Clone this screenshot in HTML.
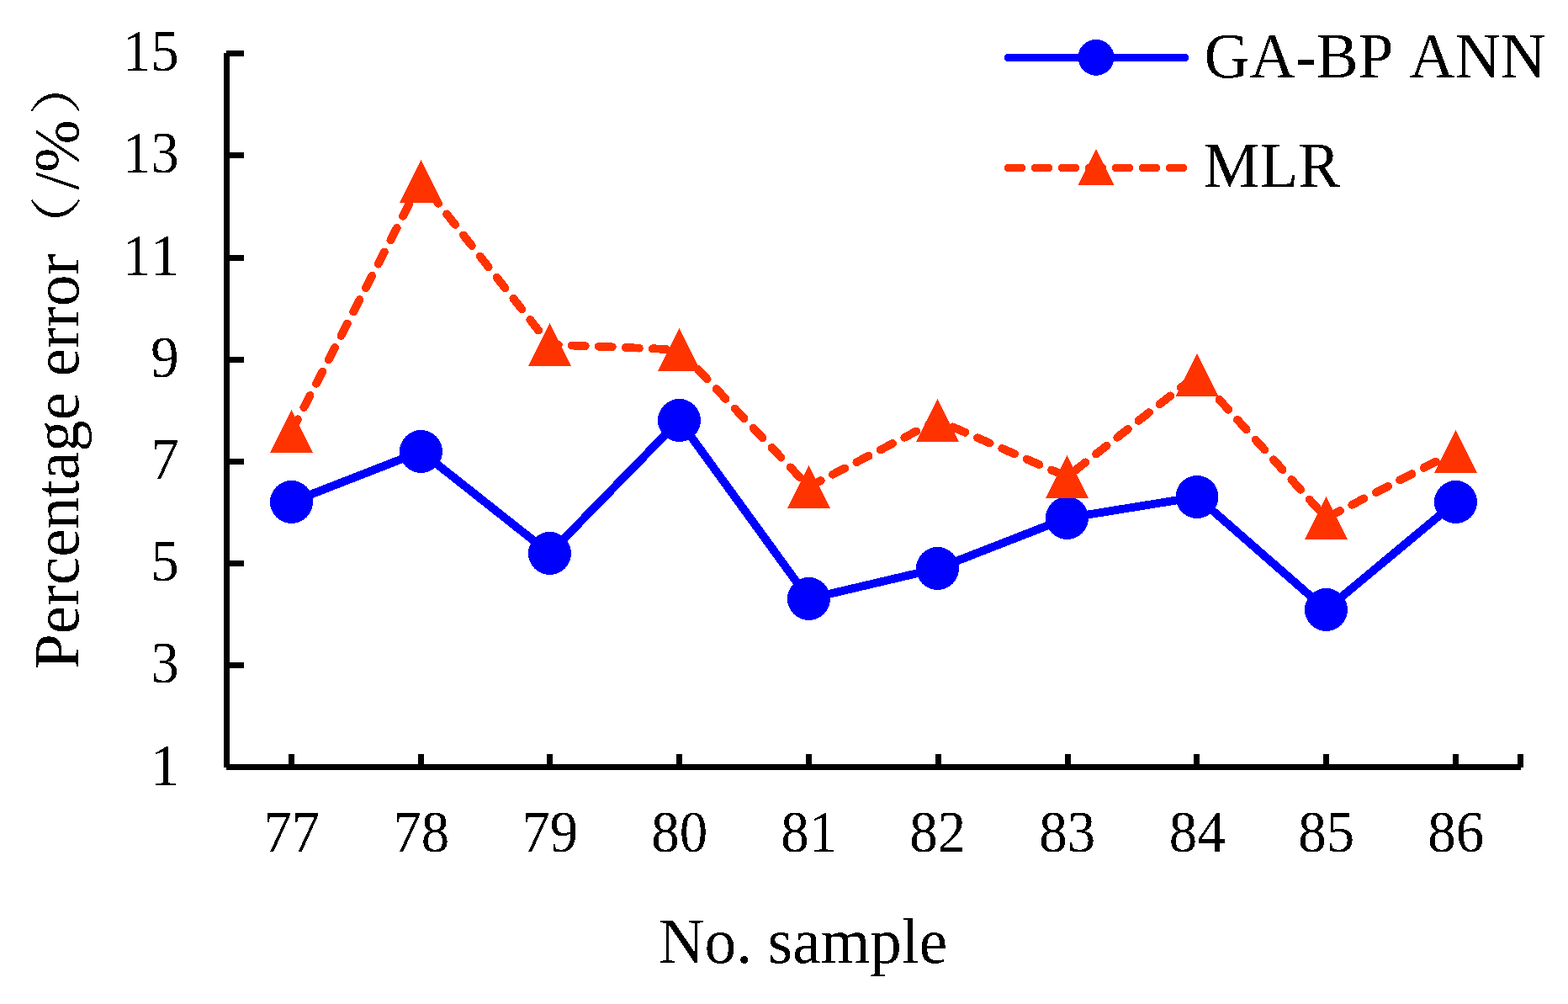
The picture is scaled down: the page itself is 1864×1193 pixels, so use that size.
<!DOCTYPE html>
<html lang="en">
<head>
<meta charset="utf-8">
<title>Percentage error chart</title>
<style>
html,body{margin:0;padding:0;background:#fff;}
body{width:1864px;height:1193px;overflow:hidden;}
svg{display:block;}
text{font-family:"Liberation Serif","Noto Serif CJK SC",serif;fill:#000;font-kerning:none;font-variant-ligatures:none;}
.tick{font-size:70.5px;}
.lab{font-size:76.6px;}
.par{font-size:61.75px;}
</style>
</head>
<body>
<svg width="1864" height="1193" viewBox="0 0 1864 1193">
<rect x="0" y="0" width="1864" height="1193" fill="#fff"/>
<defs>
<filter id="hard" x="0" y="0" width="100%" height="100%" filterUnits="userSpaceOnUse" primitiveUnits="userSpaceOnUse" color-interpolation-filters="sRGB">
<feComponentTransfer><feFuncA type="discrete" tableValues="0 1"/></feComponentTransfer>
</filter>
</defs>

<g fill="#000" shape-rendering="crispEdges">
<rect x="266" y="63" width="7" height="849"/>
<rect x="269" y="908" width="1539" height="7"/>
<rect x="269" y="60" width="21" height="7"/>
<rect x="269" y="181" width="21" height="7"/>
<rect x="269" y="303" width="21" height="7"/>
<rect x="269" y="424" width="21" height="7"/>
<rect x="269" y="545" width="21" height="7"/>
<rect x="269" y="666" width="21" height="7"/>
<rect x="269" y="787" width="21" height="7"/>
<rect x="269" y="908" width="21" height="7"/>
<rect x="343" y="896" width="7" height="16"/>
<rect x="497" y="896" width="7" height="16"/>
<rect x="650" y="896" width="7" height="16"/>
<rect x="804" y="896" width="7" height="16"/>
<rect x="958" y="896" width="7" height="16"/>
<rect x="1112" y="896" width="7" height="16"/>
<rect x="1266" y="896" width="7" height="16"/>
<rect x="1419" y="896" width="7" height="16"/>
<rect x="1573" y="896" width="7" height="16"/>
<rect x="1727" y="896" width="7" height="16"/>
<rect x="1804" y="896" width="7" height="16"/>
</g>
<g shape-rendering="crispEdges">
<polyline points="346.5,512.5 500.5,215.5 653.5,409.5 807.5,415.5 961.5,578.5 1114.5,499.5 1268.5,566.5 1423.0,445.5 1576.5,615.5 1730.5,536.5" fill="none" stroke="#ff3300" stroke-width="9.8" stroke-linecap="round" stroke-linejoin="round" stroke-dasharray="16 16"/>
<polyline points="346.5,596.5 500.5,536.5 653.5,657.5 807.5,499.5 961.5,711.5 1114.5,675.5 1268.5,615.5 1423.0,590.5 1576.5,724.5 1730.5,596.5" fill="none" stroke="#0000ff" stroke-width="9.8" stroke-linecap="round" stroke-linejoin="round"/>
<circle cx="346.5" cy="596.5" r="25.5" fill="#0000ff"/>
<circle cx="500.5" cy="536.5" r="25.5" fill="#0000ff"/>
<circle cx="653.5" cy="657.5" r="25.5" fill="#0000ff"/>
<circle cx="807.5" cy="499.5" r="25.5" fill="#0000ff"/>
<circle cx="961.5" cy="711.5" r="25.5" fill="#0000ff"/>
<circle cx="1114.5" cy="675.5" r="25.5" fill="#0000ff"/>
<circle cx="1268.5" cy="615.5" r="25.5" fill="#0000ff"/>
<circle cx="1423.0" cy="590.5" r="25.5" fill="#0000ff"/>
<circle cx="1576.5" cy="724.5" r="25.5" fill="#0000ff"/>
<circle cx="1730.5" cy="596.5" r="25.5" fill="#0000ff"/>
<polygon points="346.5,487.0 372.0,538.0 321.0,538.0" fill="#ff3300"/>
<polygon points="500.5,190.0 526.0,241.0 475.0,241.0" fill="#ff3300"/>
<polygon points="653.5,384.0 679.0,435.0 628.0,435.0" fill="#ff3300"/>
<polygon points="807.5,390.0 833.0,441.0 782.0,441.0" fill="#ff3300"/>
<polygon points="961.5,553.0 987.0,604.0 936.0,604.0" fill="#ff3300"/>
<polygon points="1114.5,474.0 1140.0,525.0 1089.0,525.0" fill="#ff3300"/>
<polygon points="1268.5,541.0 1294.0,592.0 1243.0,592.0" fill="#ff3300"/>
<polygon points="1423.0,420.0 1448.5,471.0 1397.5,471.0" fill="#ff3300"/>
<polygon points="1576.5,590.0 1602.0,641.0 1551.0,641.0" fill="#ff3300"/>
<polygon points="1730.5,511.0 1756.0,562.0 1705.0,562.0" fill="#ff3300"/>
<line x1="1198.5" y1="68.5" x2="1408.5" y2="68.5" stroke="#0000ff" stroke-width="9.3" stroke-linecap="round"/>
<circle cx="1303" cy="68.3" r="21.5" fill="#0000ff"/>
<line x1="1198.5" y1="199.5" x2="1408.5" y2="199.5" stroke="#ff3300" stroke-width="9.3" stroke-linecap="round" stroke-dasharray="16 16"/>
<polygon points="1303,177 1324.5,220 1281.5,220" fill="#ff3300"/>
</g>
<g filter="url(#hard)">
<text class="lab" transform="translate(1431.5,91.8) scale(0.9791,1)">GA-BP ANN</text>
<text class="lab" transform="translate(1430.8,221.9) scale(0.9791,1)">MLR</text>
<text class="tick" transform="translate(212.7,84.0) scale(0.9489,1)" text-anchor="end">15</text>
<text class="tick" transform="translate(212.7,205.0) scale(0.9489,1)" text-anchor="end">13</text>
<text class="tick" transform="translate(212.7,326.5) scale(0.9489,1)" text-anchor="end">11</text>
<text class="tick" transform="translate(212.7,448.0) scale(0.9489,1)" text-anchor="end">9</text>
<text class="tick" transform="translate(212.7,569.0) scale(0.9489,1)" text-anchor="end">7</text>
<text class="tick" transform="translate(212.7,690.0) scale(0.9489,1)" text-anchor="end">5</text>
<text class="tick" transform="translate(212.7,811.0) scale(0.9489,1)" text-anchor="end">3</text>
<text class="tick" transform="translate(212.7,933.0) scale(0.9489,1)" text-anchor="end">1</text>
<text class="tick" transform="translate(346.8,1012) scale(0.9489,1)" text-anchor="middle">77</text>
<text class="tick" transform="translate(500.8,1012) scale(0.9489,1)" text-anchor="middle">78</text>
<text class="tick" transform="translate(653.8,1012) scale(0.9489,1)" text-anchor="middle">79</text>
<text class="tick" transform="translate(807.8,1012) scale(0.9489,1)" text-anchor="middle">80</text>
<text class="tick" transform="translate(961.8,1012) scale(0.9489,1)" text-anchor="middle">81</text>
<text class="tick" transform="translate(1114.8,1012) scale(0.9489,1)" text-anchor="middle">82</text>
<text class="tick" transform="translate(1268.8,1012) scale(0.9489,1)" text-anchor="middle">83</text>
<text class="tick" transform="translate(1423.3,1012) scale(0.9489,1)" text-anchor="middle">84</text>
<text class="tick" transform="translate(1576.8,1012) scale(0.9489,1)" text-anchor="middle">85</text>
<text class="tick" transform="translate(1730.8,1012) scale(0.9489,1)" text-anchor="middle">86</text>
<text class="lab" transform="translate(783.1,1143.5) scale(0.9840,1)">No. sample</text>
<g transform="translate(93,795) rotate(-90)">
<text class="lab" transform="scale(0.9791,1)">Percentage error</text>
<text class="par" transform="translate(488.7,-4) scale(1.2,1)">（</text>
<text class="lab" transform="translate(569.5,0) scale(0.9791,1)">/%</text>
<text class="par" transform="translate(658,-4) scale(1.2,1)">）</text>
</g>
</g>
</svg>
</body>
</html>
